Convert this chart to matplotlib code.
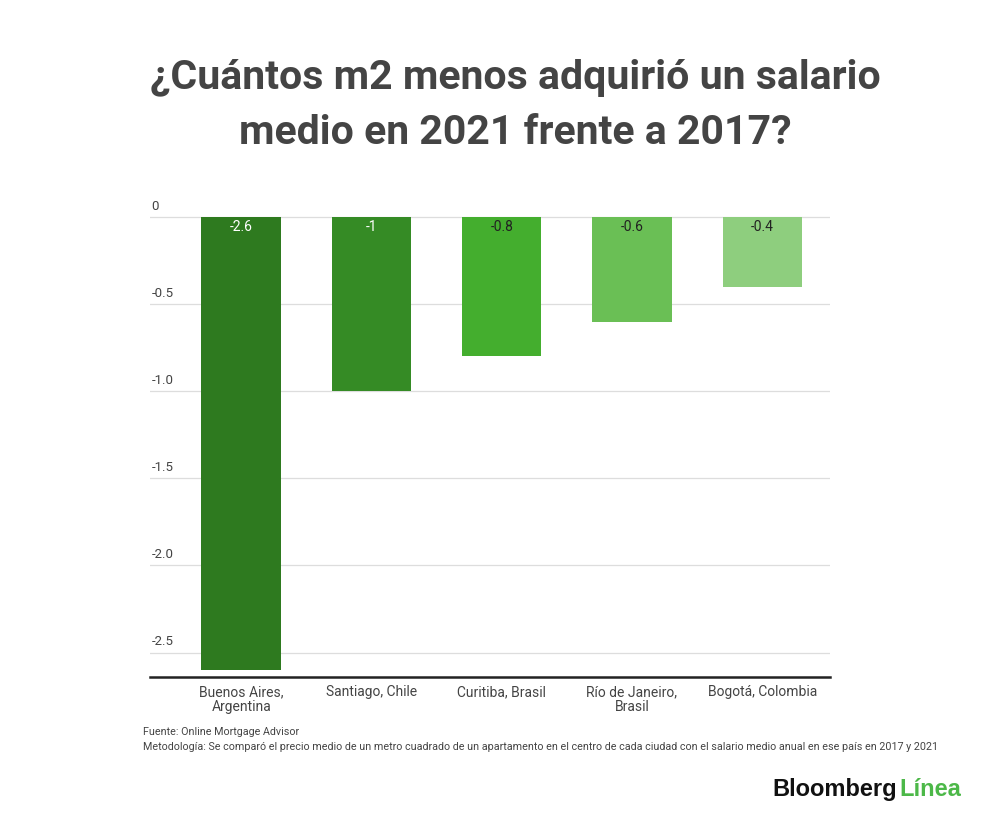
import matplotlib.pyplot as plt
import numpy as np

cities = ["Buenos Aires,\nArgentina", "Santiago, Chile", "Curitiba, Brasil",
          "Río de Janeiro,\nBrasil", "Bogotá, Colombia"]
values = [-2.6, -1.0, -0.8, -0.6, -0.4]
labels = ["-2.6", "-1", "-0.8", "-0.6", "-0.4"]
colors = ["#2e7a1f", "#358b25", "#44ae2e", "#6abf55", "#8ece7e"]
label_colors = ["white", "white", "#222222", "#222222", "#222222"]
yticks = [0, -0.5, -1.0, -1.5, -2.0, -2.5]
ytick_labels = ["0", "-0.5", "-1.0", "-1.5", "-2.0", "-2.5"]

plt.rcParams["font.family"] = ["Roboto", "DejaVu Sans"]

fig = plt.figure(figsize=(10, 8.21), dpi=100)
ax = fig.add_axes([0.150, 1 - 677 / 821, 0.680, (677 - 200) / 821])

x = np.arange(len(cities))
ax.bar(x, values, width=0.61, color=colors, zorder=3)
ax.set_xlim(-0.70, 4.52)
ax.set_ylim(-2.64, 0.0975)

for yv, yl in zip(yticks, ytick_labels):
    ax.axhline(yv, color="#dddddd", linewidth=0.9, zorder=1)
    ax.text(-0.69, yv + 0.025, yl, ha="left", va="bottom", fontsize=9.5, color="#444444")

for xi, lab, c in zip(x, labels, label_colors):
    ax.text(xi, -0.058, lab, ha="center", va="center", fontsize=10, color=c, zorder=4)

ax.set_yticks([])
ax.set_xticks(x)
ax.set_xticklabels(cities, fontsize=10, color="#444444", linespacing=1.1)
ax.tick_params(axis="x", length=0, pad=6)
for side in ["top", "right", "left"]:
    ax.spines[side].set_visible(False)
ax.spines["bottom"].set_linewidth(1.8)
ax.spines["bottom"].set_color("#222222")

fig.text(0.515, 1 - 78 / 821, "¿Cuántos m2 menos adquirió un salario", ha="center", va="center",
         fontsize=29.5, fontweight="bold", color="#444444")
fig.text(0.515, 1 - 133 / 821, "medio en 2021 frente a 2017?", ha="center", va="center",
         fontsize=29.5, fontweight="bold", color="#444444")

fig.text(0.143, 1 - 732 / 821, "Fuente: Online Mortgage Advisor", ha="left", va="center",
         fontsize=7.75, color="#444444")
fig.text(0.143, 1 - 747 / 821,
         "Metodología: Se comparó el precio medio de un metro cuadrado de un apartamento en el centro de cada ciudad con el salario medio anual en ese país en 2017 y 2021",
         ha="left", va="center", fontsize=7.75, color="#444444")

fig.text(0.772, 1 - 789 / 821, "Bloomberg", ha="left", va="center",
         fontsize=17, fontweight="bold", color="#111111", family="Liberation Sans")
fig.text(0.899, 1 - 789 / 821, "Línea", ha="left", va="center",
         fontsize=17, fontweight="bold", color="#4cb848", family="Liberation Sans")

fig.savefig("out.png", dpi=100, facecolor="white")
